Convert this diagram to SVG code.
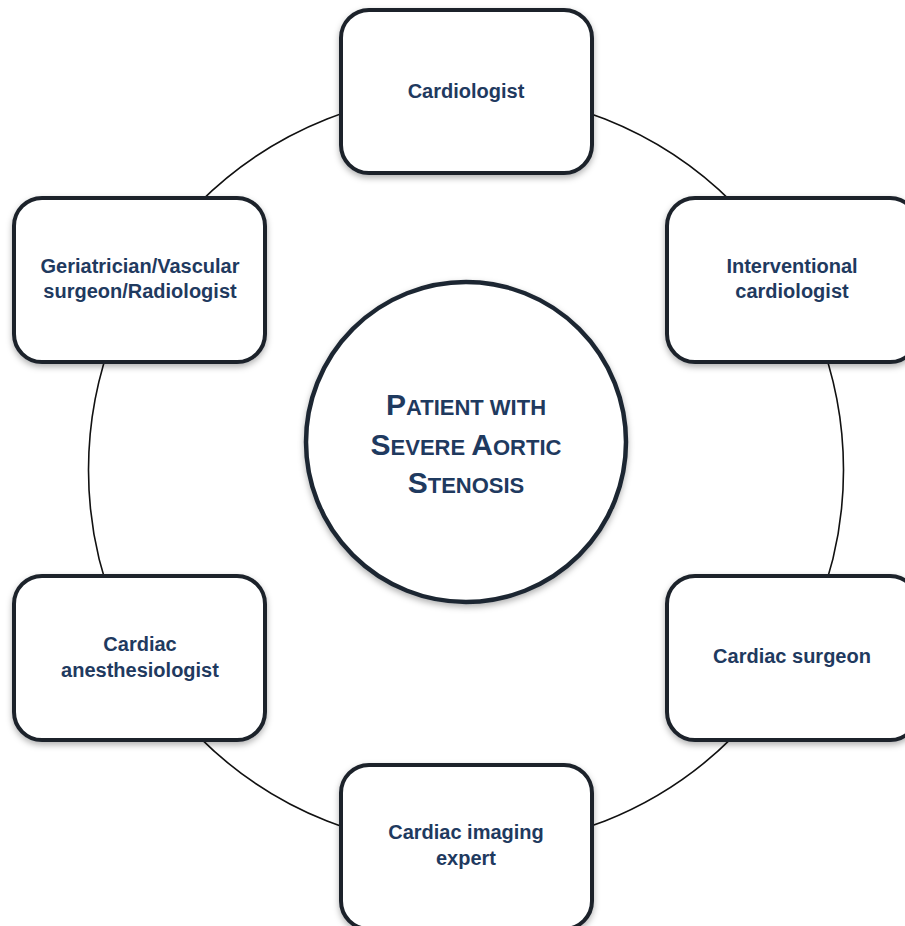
<svg xmlns="http://www.w3.org/2000/svg" width="905" height="926" viewBox="0 0 905 926">
<defs>
<filter id="sh" x="-10%" y="-10%" width="120%" height="125%">
<feDropShadow dx="0" dy="3" stdDeviation="3" flood-color="#000" flood-opacity="0.3"/>
</filter>
<style>
.box{fill:#fff;stroke:#1b222b;stroke-width:4;filter:url(#sh)}
.lbl{font-family:"Liberation Sans",Arial,sans-serif;font-weight:bold;font-size:20px;fill:#1f3a5f;text-anchor:middle}
.big{font-family:"Liberation Sans",Arial,sans-serif;font-weight:bold;fill:#1f3a5f;text-anchor:middle}
.cap{font-size:30px}
.sc{font-size:22px}
.conn{fill:none;stroke:#111;stroke-width:1.6}
</style>
</defs>
<rect width="905" height="926" fill="#fff"/>
<g id="connectors">
<circle class="conn" cx="466" cy="470" r="377.5"/>
</g>
<g id="patient">
<circle cx="466" cy="442" r="160" fill="#fff" stroke="#1e2833" stroke-width="4.5" filter="url(#sh)"/>
<text class="big" x="466" y="415"><tspan class="cap">P</tspan><tspan class="sc">ATIENT WITH</tspan></text>
<text class="big" x="466" y="455"><tspan class="cap">S</tspan><tspan class="sc">EVERE </tspan><tspan class="cap">A</tspan><tspan class="sc">ORTIC</tspan></text>
<text class="big" x="466" y="493"><tspan class="cap">S</tspan><tspan class="sc">TENOSIS</tspan></text>
</g>
<g id="cardiologist">
<rect class="box" x="341" y="10" width="251" height="163" rx="28"/>
<text class="lbl" x="466" y="98">Cardiologist</text>
</g>
<g id="interventional">
<rect class="box" x="667" y="198" width="251" height="164" rx="28"/>
<text class="lbl" x="792" y="273">Interventional</text>
<text class="lbl" x="792" y="298">cardiologist</text>
</g>
<g id="surgeon">
<rect class="box" x="667" y="576" width="251" height="164" rx="28"/>
<text class="lbl" x="792" y="663">Cardiac surgeon</text>
</g>
<g id="imaging">
<rect class="box" x="341" y="765" width="251" height="164" rx="28"/>
<text class="lbl" x="466" y="839">Cardiac imaging</text>
<text class="lbl" x="466" y="865">expert</text>
</g>
<g id="anesthesiologist">
<rect class="box" x="14" y="576" width="251" height="164" rx="28"/>
<text class="lbl" x="140" y="651">Cardiac</text>
<text class="lbl" x="140" y="677">anesthesiologist</text>
</g>
<g id="geriatrician">
<rect class="box" x="14" y="198" width="251" height="164" rx="28"/>
<text class="lbl" x="140" y="273">Geriatrician/Vascular</text>
<text class="lbl" x="140" y="298">surgeon/Radiologist</text>
</g>
</svg>
